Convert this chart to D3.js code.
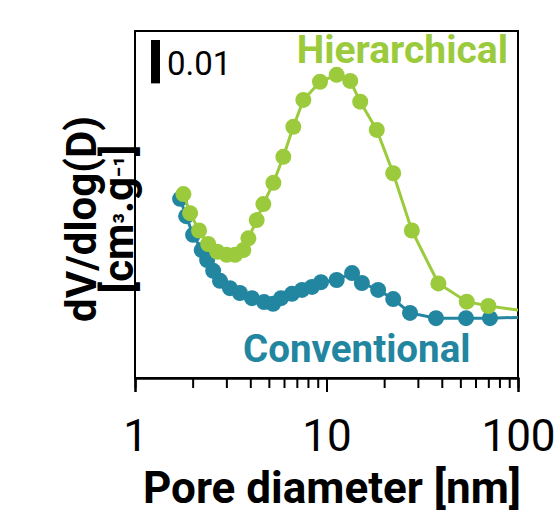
<!DOCTYPE html>
<html>
<head>
<meta charset="utf-8">
<script src="https://cdn.jsdelivr.net/npm/d3@7"></script>
<style>
  body { margin: 0; background: #fff; }
  text { font-family: Roboto, "Noto Sans", sans-serif; }
</style>
</head>
<body>
<div id="chart"></div>
<script>
// pore diameter [nm] and dV/dlog(D) [cm3/g]
var hierD = [1.79, 1.94, 2.16, 2.41, 2.69, 3.01, 3.33, 3.68, 3.91, 4.32, 4.68, 5.28, 5.95, 6.71, 7.57, 9.25, 11.3, 13.3, 15.0, 18.3, 22.3, 27.9, 38.4, 54.0, 70.0, 130];
var hierV = [0.0424, 0.0380, 0.0340, 0.0309, 0.0291, 0.0284, 0.0284, 0.0295, 0.0322, 0.0364, 0.0401, 0.0450, 0.0510, 0.0579, 0.0641, 0.0683, 0.0699, 0.0685, 0.0637, 0.0572, 0.0472, 0.0340, 0.0218, 0.0176, 0.0166, 0.0150];

var convD = [1.72, 1.85, 2.01, 2.23, 2.38, 2.56, 2.78, 3.13, 3.53, 4.08, 4.72, 5.26, 5.79, 6.60, 7.45, 8.40, 9.36, 11.3, 13.6, 15.3, 18.6, 22.3, 27.3, 37.3, 53.5, 71.4, 130];
var convV = [0.0413, 0.0373, 0.0330, 0.0295, 0.0272, 0.0247, 0.0224, 0.0207, 0.0196, 0.0184, 0.0175, 0.0171, 0.0184, 0.0194, 0.0203, 0.0210, 0.0221, 0.0226, 0.0242, 0.0219, 0.0203, 0.0182, 0.0150, 0.0138, 0.0138, 0.0138, 0.0141];

var majorTicks = [1, 10, 100];
var minorTicks = [2, 3, 4, 5, 6, 7, 8, 9, 20, 30, 40, 50, 60, 70, 80, 90];

var green = "#9bcb3c", teal = "#2386a0";

var W = 560, H = 514;
var margin = {top: 31, right: 42, bottom: 136, left: 135},
    width = W - margin.left - margin.right,
    height = H - margin.top - margin.bottom;

var svg = d3.select("#chart").append("svg")
    .attr("width", W)
    .attr("height", H);

var g = svg.append("g")
    .attr("transform", "translate(" + margin.left + "," + margin.top + ")");

var x = d3.scaleLog().domain([1, 100]).range([0, width]);
var y = d3.scaleLinear().domain([0, 0.08]).range([height, 0]);

g.append("clipPath").attr("id", "clip")
  .append("rect").attr("width", width).attr("height", height);

// frame
g.append("rect")
    .attr("width", width).attr("height", height)
    .attr("fill", "none").attr("stroke", "#000").attr("stroke-width", 2);

// x axis
var xMinor = g.append("g")
    .attr("transform", "translate(0," + height + ")")
    .call(d3.axisBottom(x).tickValues(minorTicks).tickSize(10).tickFormat(""));
var xMajor = g.append("g")
    .attr("transform", "translate(0," + height + ")")
    .call(d3.axisBottom(x).tickValues(majorTicks).tickSize(14).tickPadding(28).tickFormat(d3.format("d")));
[xMinor, xMajor].forEach(function(a) {
  a.select(".domain").attr("stroke-width", 2);
  a.selectAll(".tick line").attr("stroke-width", 2);
});
xMajor.selectAll(".tick text").attr("font-size", 44).attr("font-family", "Roboto").attr("fill", "#000");

svg.append("text")
    .attr("x", 332).attr("y", 503)
    .attr("text-anchor", "middle")
    .attr("font-size", 44).attr("font-weight", "bold")
    .text("Pore diameter [nm]");

// y title, two lines
svg.append("text")
    .attr("transform", "translate(96,219) rotate(-90)")
    .attr("text-anchor", "middle")
    .attr("font-size", 42).attr("font-weight", "bold")
    .text("dV/dlog(D)");
var yt2 = svg.append("text")
    .attr("transform", "translate(133,219) rotate(-90)")
    .attr("text-anchor", "middle")
    .attr("font-size", 42).attr("font-weight", "bold");
yt2.append("tspan").text("[cm");
yt2.append("tspan").attr("font-size", 28).text("³");
yt2.append("tspan").text(".g");
yt2.append("tspan").attr("font-size", 28).text("⁻¹");
yt2.append("tspan").text("]");

// scale bar
g.append("rect")
    .attr("x", 16).attr("y", 9)
    .attr("width", 9).attr("height", y(0) - y(0.01))
    .attr("fill", "#000");
g.append("text")
    .attr("x", 32).attr("y", 44)
    .attr("font-size", 33)
    .text("0.01");

var line = d3.line()
    .x(function(d) { return x(d[0]); })
    .y(function(d) { return y(d[1]); });

var series = [
  {D: convD, V: convV, color: teal},
  {D: hierD, V: hierV, color: green}
];

var plot = g.append("g").attr("clip-path", "url(#clip)");
series.forEach(function(s) {
  var pts = s.D.map(function(d, i) { return [d, s.V[i]]; });
  plot.append("path")
      .datum(pts)
      .attr("d", line)
      .attr("fill", "none")
      .attr("stroke", s.color)
      .attr("stroke-width", 3);
  plot.append("g").selectAll("circle")
      .data(pts)
      .enter().append("circle")
      .attr("cx", function(d) { return x(d[0]); })
      .attr("cy", function(d) { return y(d[1]); })
      .attr("r", 8)
      .attr("fill", s.color);
});

// series labels
g.append("text")
    .attr("x", 373).attr("y", 32)
    .attr("text-anchor", "end")
    .attr("font-size", 39).attr("font-weight", "bold")
    .attr("fill", green)
    .text("Hierarchical");
g.append("text")
    .attr("x", 108).attr("y", 331)
    .attr("font-size", 38.5).attr("font-weight", "bold")
    .attr("fill", teal)
    .text("Conventional");
</script>
</body>
</html>
